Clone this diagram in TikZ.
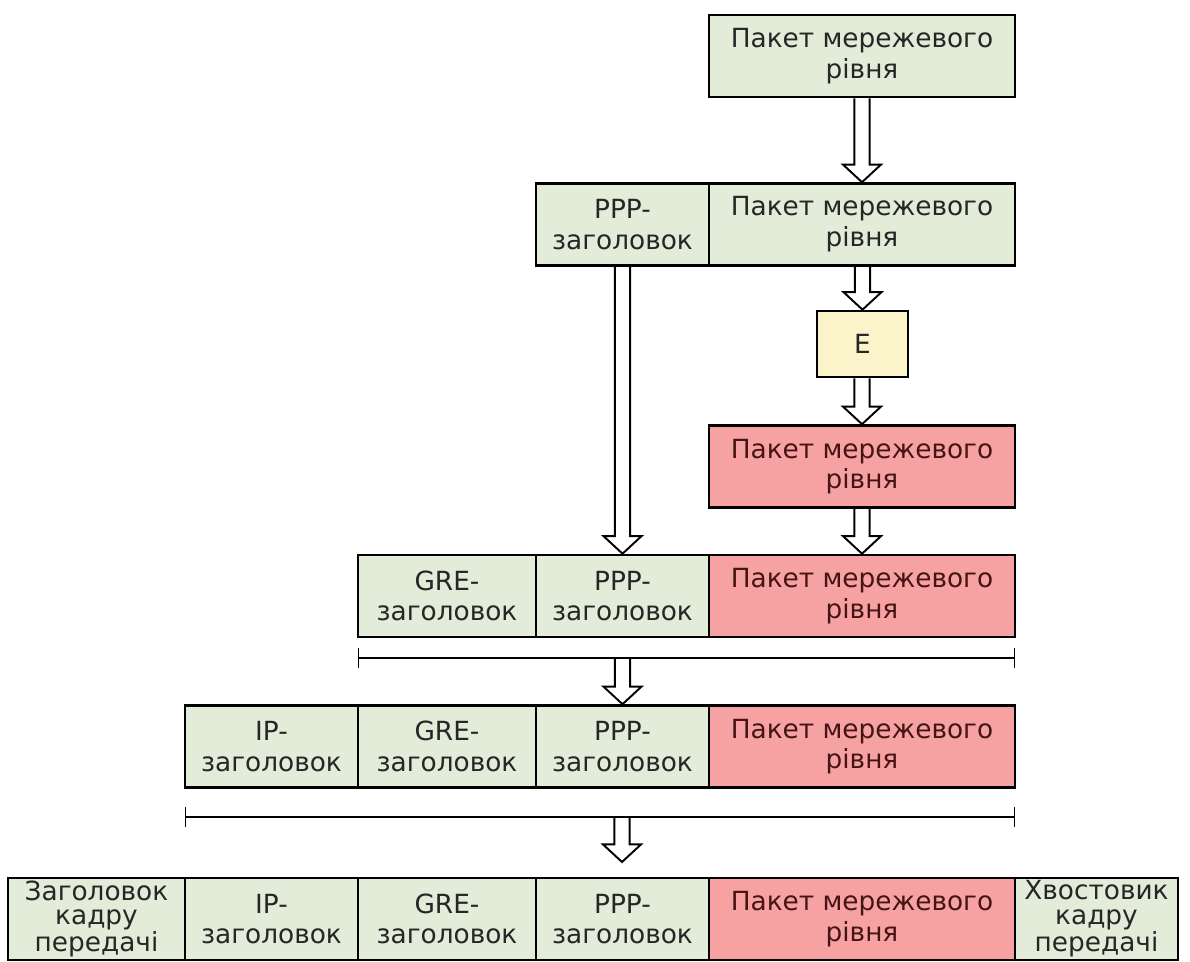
\documentclass[tikz,border=0pt]{standalone}
\usepackage{fontspec}
\setmainfont{DejaVu Sans}
\usepackage{tikz}
\usetikzlibrary{
    arrows.meta,
    calc
}
\usepackage{xcolor}

\definecolor{hdrgreen}{RGB}{226,236,216}
\definecolor{pktred}{RGB}{246,162,162}
\definecolor{encyellow}{RGB}{251,243,202}
\definecolor{pkttext}{RGB}{70,20,20}

% hollow block arrow from one anchor down to another
\newcommand{\fatarrow}[2]{%
    \draw[fat] let \p1=(#1), \p2=(#2) in
        (\x2-4.3pt,\y1) -- (\x2-4.3pt,\y2+10pt) -- (\x2-10.8pt,\y2+10pt)
        -- (\x2,\y2) -- (\x2+10.8pt,\y2+10pt) -- (\x2+4.3pt,\y2+10pt)
        -- (\x2+4.3pt,\y1);
}

\begin{document}
\begin{tikzpicture}[
        x=0.02cm, y=-0.02cm,
        field/.style={
            draw,
            line width=1.5pt,
            fill=hdrgreen,
            text=black!85,
            minimum height=1.64cm,
            inner sep=0pt,
            align=center,
            font=\fontsize{15}{17.5}\selectfont
        },
        hdr/.style={field, minimum width=3.46cm},
        frm/.style={hdr, font=\fontsize{15}{14}\selectfont},
        pkt/.style={field, minimum width=6.12cm},
        redpkt/.style={pkt, fill=pktred, text=pkttext},
        fat/.style={line width=1.1pt, line join=miter},
        span/.style={line width=0.8pt, {Bar[width=0.4cm]}-{Bar[width=0.4cm]}}
    ]
        \useasboundingbox (0,0) rectangle (1190,961);

        % network layer packet and PPP framing
        \node[pkt] (pkt1) at (862,56) {Пакет мережевого\\рівня};
        \node[hdr] (ppp2) at (622.5,224.5) {PPP-\\заголовок};
        \node[pkt] (pkt2) at (862,224.5) {Пакет мережевого\\рівня};

        % encryption
        \node[field, fill=encyellow, minimum width=1.82cm, minimum height=1.32cm] (enc) at (862.5,344) {E};
        \node[redpkt] (red3) at (862,466.5) {Пакет мережевого\\рівня};

        % GRE
        \node[hdr, minimum width=3.56cm] (gre4) at (447,596) {GRE-\\заголовок};
        \node[hdr] (ppp4) at (622.5,596) {PPP-\\заголовок};
        \node[redpkt] (red4) at (862,596) {Пакет мережевого\\рівня};

        % IP
        \node[hdr] (ip5) at (271.5,746.5) {IP-\\заголовок};
        \node[hdr, minimum width=3.56cm] (gre5) at (447,746.5) {GRE-\\заголовок};
        \node[hdr] (ppp5) at (622.5,746.5) {PPP-\\заголовок};
        \node[redpkt] (red5) at (862,746.5) {Пакет мережевого\\рівня};

        % link layer frame
        \node[frm, minimum width=3.54cm] (fh6) at (96.5,919) {Заголовок\\кадру\\передачі};
        \node[hdr] (ip6) at (271.5,919) {IP-\\заголовок};
        \node[hdr, minimum width=3.56cm] (gre6) at (447,919) {GRE-\\заголовок};
        \node[hdr] (ppp6) at (622.5,919) {PPP-\\заголовок};
        \node[redpkt] (red6) at (862,919) {Пакет мережевого\\рівня};
        \node[frm, minimum width=3.26cm] (ft6) at (1096.5,919) {Хвостовик\\кадру\\передачі};

        % spans of the encapsulated parts
        \coordinate (s1l) at (358,658);
        \coordinate (s1r) at (1015,658);
        \coordinate (s1m) at (622,658);
        \coordinate (s2l) at (185,817);
        \coordinate (s2r) at (1015,817);
        \coordinate (s2m) at (622,817);
        \coordinate (tip6) at (622,862);
        \draw[span] (s1l) -- (s1r);
        \draw[span] (s2l) -- (s2r);

        \fatarrow{pkt1.south}{pkt2.north}
        \fatarrow{pkt2.south}{enc.north}
        \fatarrow{enc.south}{red3.north}
        \fatarrow{red3.south}{red4.north}
        \fatarrow{ppp2.south}{ppp4.north}
        \fatarrow{s1m}{ppp5.north}
        \fatarrow{s2m}{tip6}
    \end{tikzpicture}
\end{document}
